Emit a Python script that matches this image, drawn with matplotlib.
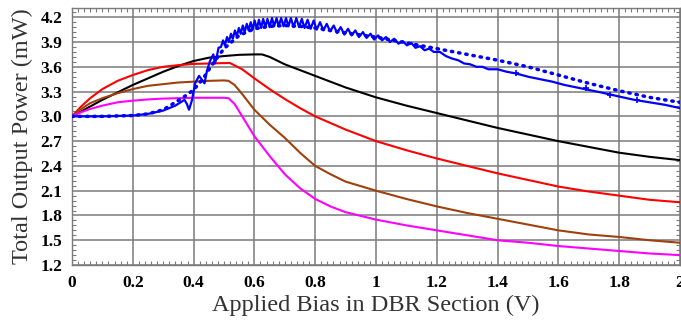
import numpy as np
import matplotlib
matplotlib.use("Agg")
import matplotlib.pyplot as plt
from matplotlib.ticker import MultipleLocator

plt.rcParams['font.family'] = ['Liberation Serif', 'DejaVu Serif']

# black trace
black_x = [0.0, 0.05, 0.1, 0.15, 0.2, 0.25, 0.3, 0.35, 0.4, 0.45, 0.5, 0.55, 0.6, 0.625,
           0.65, 0.7, 0.75, 0.8, 0.9, 1.0, 1.1, 1.2, 1.3, 1.4, 1.5, 1.6, 1.7, 1.8, 1.9, 2.0]
black_y = [3.00, 3.10, 3.20, 3.29, 3.38, 3.46, 3.54, 3.61, 3.67, 3.71, 3.73, 3.745, 3.75, 3.75,
           3.72, 3.63, 3.56, 3.49, 3.35, 3.23, 3.13, 3.04, 2.95, 2.86, 2.78, 2.70, 2.63, 2.56, 2.51, 2.47]

# red trace
red_x = [0.0, 0.03, 0.06, 0.1, 0.15, 0.2, 0.25, 0.3, 0.35, 0.4, 0.45, 0.5, 0.52,
         0.56, 0.6, 0.65, 0.7, 0.75, 0.8, 0.9, 1.0, 1.1, 1.2, 1.3, 1.4, 1.5, 1.6, 1.7, 1.8, 1.9, 2.0]
red_y = [3.00, 3.12, 3.22, 3.33, 3.43, 3.50, 3.56, 3.60, 3.62, 3.635, 3.64, 3.645, 3.645,
         3.57, 3.46, 3.33, 3.21, 3.10, 3.00, 2.84, 2.70, 2.59, 2.49, 2.40, 2.31, 2.23, 2.15, 2.09, 2.04, 1.99, 1.96]

# brown trace
brown_x = [0.0, 0.03, 0.06, 0.1, 0.15, 0.2, 0.25, 0.3, 0.35, 0.4, 0.45, 0.5, 0.515, 0.535,
           0.56, 0.6, 0.65, 0.7, 0.75, 0.8, 0.85, 0.9, 1.0, 1.1, 1.2, 1.3, 1.4, 1.5, 1.6, 1.7, 1.8, 1.9, 2.0]
brown_y = [3.00, 3.09, 3.16, 3.22, 3.28, 3.33, 3.37, 3.39, 3.41, 3.42, 3.43, 3.435, 3.43, 3.38,
           3.27, 3.08, 2.90, 2.74, 2.56, 2.40, 2.30, 2.21, 2.10, 2.00, 1.91, 1.83, 1.76, 1.69, 1.62, 1.57, 1.54, 1.50, 1.47]

# magenta trace
magenta_x = [0.0, 0.03, 0.06, 0.1, 0.15, 0.2, 0.25, 0.3, 0.4, 0.5, 0.515, 0.535,
             0.56, 0.6, 0.65, 0.7, 0.75, 0.8, 0.85, 0.9, 1.0, 1.1, 1.2, 1.3, 1.4, 1.5, 1.6, 1.7, 1.8, 1.9, 2.0]
magenta_y = [3.00, 3.05, 3.09, 3.13, 3.17, 3.19, 3.205, 3.215, 3.225, 3.225, 3.22, 3.15,
             3.00, 2.76, 2.52, 2.30, 2.13, 2.00, 1.91, 1.84, 1.75, 1.68, 1.62, 1.56, 1.50, 1.47, 1.43, 1.40, 1.37, 1.34, 1.32]

# blue solid trace (with ripple)
blue_x = [0.0, 0.1, 0.2, 0.25, 0.3, 0.34, 0.37, 0.378, 0.385, 0.395, 0.405, 0.418, 0.428, 0.436,
          0.444, 0.454, 0.465, 0.47, 0.475, 0.482, 0.49,
          0.497, 0.503, 0.510, 0.516, 0.523, 0.529, 0.536, 0.542, 0.549, 0.555, 0.562, 0.568,
          0.575, 0.581, 0.588, 0.594, 0.601, 0.608, 0.615, 0.622, 0.629, 0.636, 0.643, 0.650,
          0.658, 0.665, 0.673, 0.680, 0.688, 0.696, 0.704, 0.712, 0.720, 0.729, 0.738, 0.747,
          0.756, 0.765, 0.775, 0.785, 0.795, 0.805, 0.816, 0.827, 0.838, 0.849, 0.861, 0.872,
          0.884, 0.896, 0.908, 0.920, 0.932, 0.944, 0.957, 0.969, 0.982, 0.994, 1.007, 1.020,
          1.033, 1.046, 1.060, 1.074, 1.088, 1.102, 1.116, 1.130, 1.145, 1.160, 1.175, 1.190,
          1.21, 1.23, 1.25, 1.27, 1.29, 1.31, 1.33, 1.35, 1.37, 1.40, 1.43, 1.46, 1.50, 1.54,
          1.58, 1.62, 1.66, 1.70, 1.74, 1.80, 1.85, 1.90, 1.95, 2.0]
blue_y = [3.00, 3.00, 3.01, 3.03, 3.07, 3.13, 3.20, 3.15, 3.08, 3.20, 3.40, 3.49, 3.44, 3.40,
          3.55, 3.67, 3.75, 3.64, 3.70, 3.83, 3.84,
          3.92, 3.86, 3.96, 3.90, 4.00, 3.94, 4.04, 3.97, 4.07, 4.00, 4.10, 4.02,
          4.12, 4.04, 4.14, 4.05, 4.16, 4.06, 4.17, 4.07, 4.18, 4.08, 4.18, 4.08,
          4.19, 4.09, 4.19, 4.09, 4.19, 4.09, 4.19, 4.09, 4.19, 4.08, 4.19, 4.08,
          4.18, 4.07, 4.17, 4.06, 4.16, 4.05, 4.14, 4.04, 4.12, 4.03, 4.10, 4.01,
          4.08, 3.99, 4.06, 3.98, 4.04, 3.96, 4.02, 3.95, 4.00, 3.93, 3.98, 3.92,
          3.96, 3.90, 3.94, 3.88, 3.91, 3.86, 3.89, 3.83, 3.85, 3.80, 3.82, 3.78,
          3.78, 3.73, 3.70, 3.68, 3.64, 3.63, 3.60, 3.60, 3.57, 3.57, 3.54, 3.52, 3.48, 3.45,
          3.42, 3.38, 3.35, 3.32, 3.29, 3.24, 3.20, 3.17, 3.14, 3.10]

# small cross markers sitting on the blue solid trace
cross_x = [1.46, 1.69, 1.77, 1.86]
cross_y = [3.53, 3.34, 3.26, 3.20]

# blue dotted trace
dotted_x = [0.0, 0.1, 0.2, 0.25, 0.3, 0.34, 0.37, 0.40, 0.43, 0.46, 0.50, 0.55, 0.60, 0.65,
            0.70, 0.75, 0.80, 0.85, 0.90, 1.00, 1.10, 1.20, 1.30, 1.40, 1.50, 1.60, 1.70, 1.80, 1.90, 2.00]
dotted_y = [3.00, 3.00, 3.01, 3.03, 3.08, 3.17, 3.24, 3.32, 3.45, 3.62, 3.82, 3.98, 4.06, 4.09,
            4.10, 4.09, 4.07, 4.04, 4.01, 3.96, 3.89, 3.82, 3.75, 3.68, 3.60, 3.50, 3.40, 3.31, 3.23, 3.17]

xticks = [0, 0.2, 0.4, 0.6, 0.8, 1, 1.2, 1.4, 1.6, 1.8, 2]
xtick_labels = ['0', '0.2', '0.4', '0.6', '0.8', '1', '1.2', '1.4', '1.6', '1.8', '2']
yticks = [1.2, 1.5, 1.8, 2.1, 2.4, 2.7, 3.0, 3.3, 3.6, 3.9, 4.2]

fig = plt.figure(figsize=(6.81, 3.26), dpi=100)
ax = fig.add_axes([0.1057, 0.187, 0.8928, 0.788])

lw = 1.5
ax.plot(black_x, black_y, color='black', lw=lw, zorder=3)
ax.plot(red_x, red_y, color='#ff0000', lw=lw, zorder=3)
ax.plot(brown_x, brown_y, color='#a0400c', lw=lw, zorder=3)
ax.plot(magenta_x, magenta_y, color='#ff00ff', lw=lw, zorder=3)
ax.plot(dotted_x, dotted_y, color='#0000ff', lw=2.5, linestyle=(0, (0.4, 1.7)),
        dash_capstyle='round', zorder=4)
ax.plot(blue_x, blue_y, color='#0000ff', lw=1.6, zorder=5)
ax.plot(cross_x, cross_y, linestyle='none', marker='+', markersize=5, mew=1.2,
        color='#0000ff', zorder=5)

ax.set_xlim(0, 2)
ax.set_ylim(1.2, 4.31)
ax.set_xticks(xticks)
ax.set_xticklabels(xtick_labels)
ax.set_yticks(yticks)
ax.set_yticklabels([f"{v:.1f}" for v in yticks])
ax.xaxis.set_minor_locator(MultipleLocator(0.02))
ax.yaxis.set_minor_locator(MultipleLocator(0.06))

ax.grid(True, which='major', color='#7a7a7a', lw=1.1)
ax.tick_params(which='both', direction='in', top=True, right=True, color='#7a7a7a')
ax.tick_params(which='major', length=0, labelsize=12.5, pad=7)
ax.tick_params(which='minor', length=3, width=0.8)
for lab in ax.get_xticklabels() + ax.get_yticklabels():
    lab.set_fontweight('bold')
for sp in ax.spines.values():
    sp.set_color('#7a7a7a')
    sp.set_linewidth(1.0)

ax.set_xlabel("Applied Bias in DBR Section (V)", fontsize=17.5, color='#333333', labelpad=3)
ax.set_ylabel("Total Output Power (mW)", fontsize=17.5, color='#333333', labelpad=5)

fig.savefig("out.png", dpi=100)
